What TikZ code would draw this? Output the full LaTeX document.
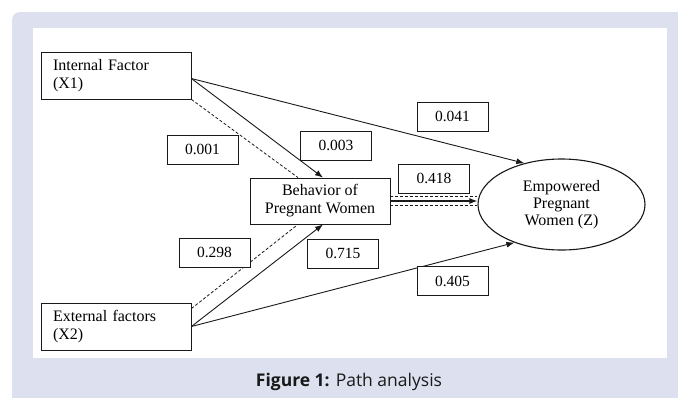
\documentclass[tikz,border=0pt]{standalone}
\usepackage{fontspec}
\setmainfont{Liberation Serif}
\newfontfamily\capfont{Open Sans}
\usetikzlibrary{shapes.geometric, arrows.meta, positioning, calc}
\definecolor{panelblue}{RGB}{221, 225, 239}
\definecolor{inkgray}{RGB}{25, 25, 25}

\begin{document}
\begin{tikzpicture}[
    x=1pt, y=-1pt,
    var/.style={rectangle, draw=inkgray, line width=0.8pt, fill=white, minimum width=150pt, minimum height=47pt, text width=126pt, inner xsep=12pt, inner ysep=0pt, align=left, font=\fontsize{16}{18}\selectfont},
    med/.style={rectangle, draw=inkgray, line width=0.8pt, fill=white, minimum width=140pt, minimum height=46pt, inner sep=0pt, align=center, font=\fontsize{16}{18}\selectfont},
    outc/.style={ellipse, draw=inkgray, line width=1.1pt, minimum width=167pt, minimum height=91pt, inner sep=0pt, align=center, font=\fontsize{16}{17}\selectfont},
    coef/.style={rectangle, draw=inkgray, line width=0.8pt, fill=white, minimum width=71pt, minimum height=29pt, inner sep=0pt, font=\fontsize{15.5}{17}\selectfont},
    arr/.style={-{Latex[length=8pt, width=6pt]}, line width=0.9pt, inkgray},
    dsh/.style={dash pattern=on 3pt off 2pt, line width=0.8pt, inkgray},
]
\useasboundingbox (0,0) rectangle (678,397);

% panel
\fill[panelblue, rounded corners=8pt] (12,12) rectangle (700,420);
\fill[white] (33,28) rectangle (667,358);

% variables
\node[var] (x1) at (116,75.5) {Internal Factor\\(X1)};
\node[var] (x2) at (116,326.5) {External factors\\(X2)};
\node[med] (beh) at (320,201) {Behavior of\\Pregnant Women};
\node[outc] (emp) at (561.5,204.5) {Empowered\\Pregnant\\Women (Z)};

% X1 paths
\draw[arr] ([yshift=-3pt]x1.east) -- (emp.132);
\draw[arr] ([yshift=-3pt]x1.east) -- ([xshift=3pt]beh.north);
\draw[dsh] (x1.south east) -- ([xshift=-22pt]beh.north);

% X2 paths
\draw[arr] (x2.east) -- ([xshift=3pt]beh.south);
\draw[dsh] ([yshift=-6pt]x2.north east) -- ([xshift=-22pt]beh.south);
\draw[arr] (x2.east) -- (emp.219);

% mediator to outcome
\coordinate (bup) at ([yshift=4.5pt]beh.east);
\coordinate (bdn) at ([yshift=-4.5pt]beh.east);
\draw[dsh] (bup) -- (bup -| emp.west);
\draw[dsh] (bdn) -- (bdn -| emp.west);
\draw[arr, line width=1.2pt] (beh.east) -- (beh.east -| emp.west);

% coefficients
\node[coef] (c1) at (202.5,149.5) {0.001};
\node[coef] (c2) at (336,145.5) {0.003};
\node[coef] (c3) at (452.5,116.5) {0.041};
\node[coef] (c4) at (434,178.5) {0.418};
\node[coef] (c5) at (214.5,252.5) {0.298};
\node[coef] (c6) at (343,253.5) {0.715};
\node[coef] (c7) at (452.5,281) {0.405};

% caption
\node[font=\capfont\fontsize{17.5}{21}\selectfont, text=inkgray] (cap) at (349,382) {\textbf{Figure 1:} Path analysis};
\end{tikzpicture}
\end{document}
